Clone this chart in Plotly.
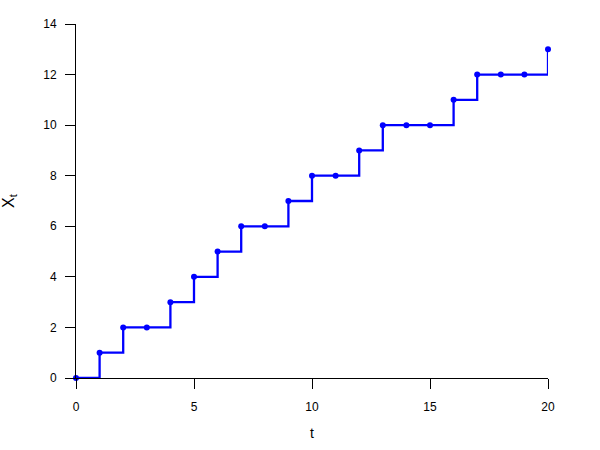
import plotly.graph_objects as go

t = list(range(21))
x_t = [0, 1, 2, 2, 3, 4, 5, 6, 6, 7, 8, 8, 9, 10, 10, 10, 11, 12, 12, 12, 13]

x_ticks = [0, 5, 10, 15, 20]
y_ticks = [0, 2, 4, 6, 8, 10, 12, 14]

fig = go.Figure()
fig.add_trace(go.Scatter(
    x=t, y=x_t, mode="lines+markers",
    line=dict(shape="hv", color="#0000ff", width=2.3),
    marker=dict(size=6, color="#0000ff"),
    cliponaxis=False,
))

axis_style = dict(
    showline=True, linecolor="black", linewidth=1,
    ticks="outside", ticklen=10, tickcolor="black", tickwidth=1,
    showgrid=False, zeroline=False, automargin=False,
    tickfont=dict(family="Liberation Sans, Arial", size=12, color="black"),
)

fig.update_xaxes(range=[0, 20], tickvals=x_ticks, ticklabelstandoff=8,
                 title=dict(text="t", font=dict(family="Liberation Sans, Arial", size=14, color="black"), standoff=14),
                 **axis_style)
fig.update_yaxes(range=[0, 14], tickvals=y_ticks, ticklabelstandoff=6,
                 title=dict(text="X<sub>t</sub>", font=dict(family="Liberation Sans, Arial", size=16, color="black"), standoff=40),
                 **axis_style)

fig.update_layout(
    width=600, height=450,
    margin=dict(l=76, r=52, t=24, b=72),
    plot_bgcolor="white", paper_bgcolor="white",
    showlegend=False,
)

# drop the default 8px body margin so the figure sits at the page corner
fig.write_html("out.html", config={"displayModeBar": False},
               post_script="document.body.style.margin='0';")
